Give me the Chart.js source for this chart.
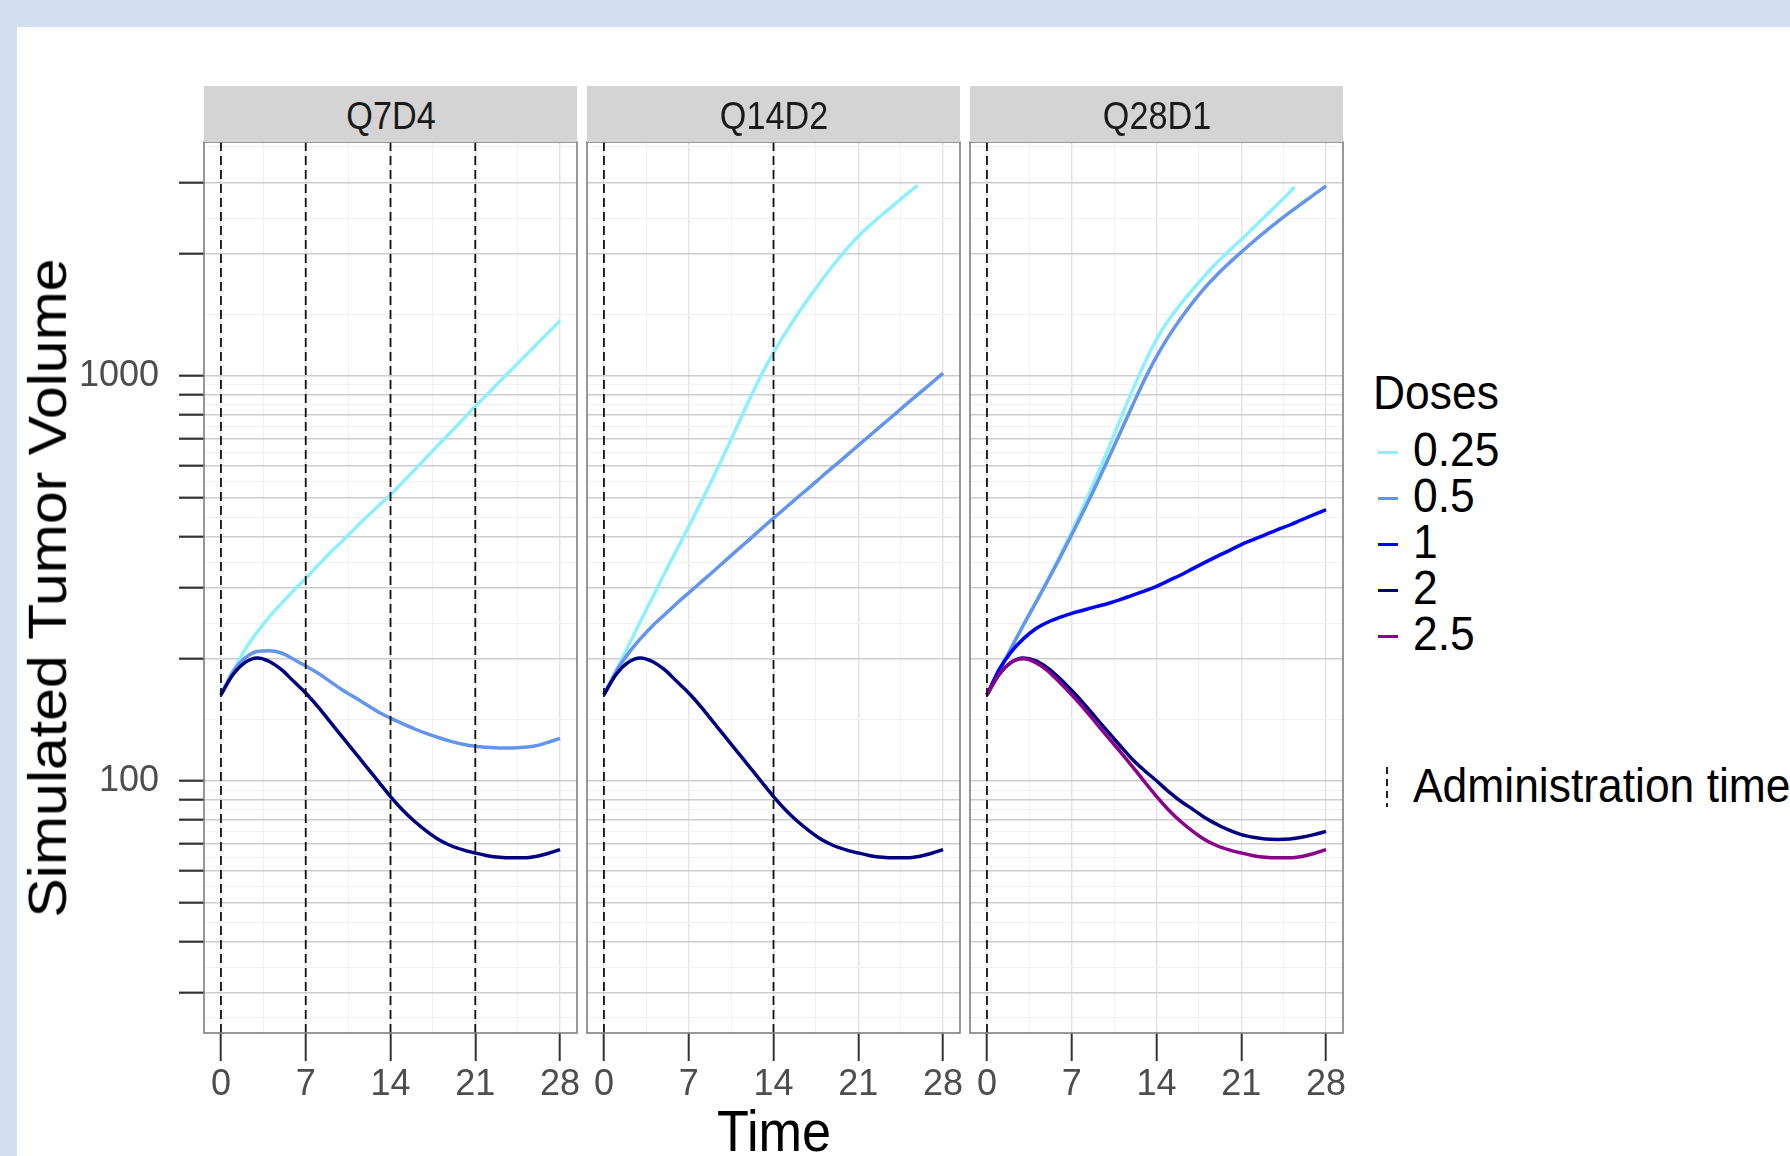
<!DOCTYPE html>
<html>
<head>
<meta charset="utf-8">
<script src="https://cdn.jsdelivr.net/npm/chart.js@4.4.1/dist/chart.umd.min.js"></script>
<style>
  html, body { margin: 0; padding: 0; }
  body { width: 1790px; height: 1156px; position: relative; overflow: hidden; background: #ffffff;
         font-family: 'Liberation Sans', Arial, sans-serif; }
  .band-top { position: absolute; left: 0; top: 0; width: 1790px; height: 27px; background: #D3DEF1; }
  .band-left { position: absolute; left: 0; top: 0; width: 17px; height: 1156px; background: #D3DEF1; }
  canvas { position: absolute; }
  .strip { position: absolute; top: 86px; height: 56px; width: 373px; background: #D4D4D4; }
  .strip span { position: absolute; left: 50%; top: 50%; font-size: 38px; color: #1A1A1A; white-space: nowrap;
                transform: translate(-50%, -46%) scaleX(0.9); line-height: 1; }
  .xtitle { position: absolute; left: 774px; top: 1102px; font-size: 58px; line-height: 58px; color: #000;
            transform: translateX(-50%) scaleX(0.9); white-space: nowrap; }
  .ytitle { position: absolute; left: 48px; top: 588px; font-size: 59px; line-height: 59px; color: #000;
            transform: translate(-50%, -50%) scaleX(0.9) rotate(-90deg); white-space: nowrap; }
  .leg { position: absolute; font-size: 48px; line-height: 48px; color: #000; white-space: nowrap;
         transform-origin: left center; transform: scaleX(0.925); }
  .sw { position: absolute; width: 20px; height: 3px; }
  .dashkey { position: absolute; width: 2px; height: 40px;
             background: repeating-linear-gradient(to bottom, #222 0 7px, transparent 7px 12px); }
</style>
</head>
<body>
<div class="band-top"></div>
<div class="band-left"></div>

<canvas id="c1" width="527" height="991" style="left:60px; top:132px;"></canvas>
<canvas id="c2" width="393" height="991" style="left:577px; top:132px;"></canvas>
<canvas id="c3" width="393" height="991" style="left:960px; top:132px;"></canvas>

<div class="strip" style="left:204px"><span id="s1"></span></div>
<div class="strip" style="left:587px"><span id="s2"></span></div>
<div class="strip" style="left:970px"><span id="s3"></span></div>

<div class="xtitle">Time</div>
<div class="ytitle">Simulated Tumor Volume</div>

<div id="legend"></div>

<script>
// ---------------- data ----------------
const panels = ['Q7D4', 'Q14D2', 'Q28D1'];
const doses = ['0.25', '0.5', '1', '2', '2.5'];
const days = [0,1,2,3,4,5,6,7,8,9,10,11,12,13,14,15,16,17,18,19,20,21,22,23,24,25,26,27,28];
const dayTicks = [0, 7, 14, 21, 28];
const dayMinor = [3.5, 10.5, 17.5, 24.5];
const dayLimits = [0, 28];
const yTicks = [30,40,50,60,70,80,90,100,200,300,400,500,600,700,800,900,1000,2000,3000];
const yLabelled = [100, 1000];
const yLimits = [30, 3000];

// administration times per regimen
const adminQ7D4 = [0, 7, 14, 21];
const adminQ14D2 = [0, 14];
const adminQ28D1 = [0];

// Q7D4 panel
const q7d4_025 = [163,186,211,233,254,274,295,316,340,365,390,418,447,477,508,546,586,630,677,727,781,840,900,966,1036,1110,1190,1276,1367];
const q7d4_05  = [163,186,201,208.5,209.4,206.7,199.6,192,184.5,175.9,167.8,160.9,154.2,147.8,142.8,138.3,134.2,130.7,127.7,125.1,123,121.6,120.9,120.4,120.4,120.9,122,124.4,127.2];
const q7d4_2   = [163,183,196,201,197,188,176,164.7,152.5,140,128.5,118,108.4,99.5,91.4,84.7,79.3,75,71.5,69.1,67.5,66.3,65.3,64.7,64.5,64.5,65,66.1,67.6];

// Q14D2 panel
const q14d2_025_days = [0,1,2,3,4,5,6,7,8,9,10,11,12,13,14,15,16,17,18,19,20,21,22,23,24,25,25.9];
const q14d2_025 = [163,187,215,247,283,325,371,424,486,559,646,750,872,1005,1141,1277,1420,1568,1723,1885,2048,2210,2357,2502,2650,2807,2953];
const q14d2_05  = [163,186,206,224,241,257,274,291,309,328,349,371,394,419,445,472,501,531,564,598,634,673,714,757,803,852,903,957,1015];
const q14d2_2   = [163,183,196,201,197,188,176,164.7,152.5,140,128.5,118,108.4,99.5,91.4,84.7,79.3,75,71.5,69.1,67.5,66.3,65.3,64.7,64.5,64.5,65,66.1,67.6];

// Q28D1 panel
const q28d1_025_days = [0,1,2,3,4,5,6,7,8,9,10,11,12,13,14,15,16,17,18,19,20,21,22,23,24,25,25.4];
const q28d1_025 = [163,186,212.5,242,274,313,358,412,478,559,658,779,917,1070,1229,1372,1504,1634,1768,1903,2034,2169,2319,2479,2650,2840,2925];
const q28d1_05  = [163,186,212.5,242,274,311,354,405,465,536,622,723,842,976,1115,1251,1385,1518,1650,1776,1898,2020,2145,2272,2401,2531,2663,2801,2940];
const q28d1_1   = [163,188,208,224,237,246,253,259,264,269,274,280,287,294,302,312,322,334,346,358,370,383,394,405,417,428,441,454,467];
const q28d1_2   = [163,183,196,201,198,190,179,167,155,143,132,122,113,106,100,94,89,85,81,78,75.5,73.6,72.5,71.8,71.6,71.8,72.5,73.6,75];
const q28d1_25  = [163,183,196,200,196,187,175,163,151,139,128,118,108.5,99.5,91.5,84.7,79.3,75,71.5,69.1,67.5,66.3,65.3,64.7,64.5,64.5,65,66.1,67.6];

// ---------------- styles ----------------
const doseColors = { '0.25': '#8EF0FF', '0.5': '#6495ED', '1': '#0000FF', '2': '#000080', '2.5': '#8B008B' };
const tickFont = { family: "'Liberation Sans', Arial, sans-serif", size: 36 };

// expanded limits (5% each side)
const lx0 = dayLimits[0], lx1 = dayLimits[1];
const X_MIN = lx0 - 0.05 * (lx1 - lx0), X_MAX = lx1 + 0.05 * (lx1 - lx0);
const ly0 = Math.log10(yLimits[0]), ly1 = Math.log10(yLimits[1]);
const Y_MIN = Math.pow(10, ly0 - 0.05 * (ly1 - ly0)), Y_MAX = Math.pow(10, ly1 + 0.05 * (ly1 - ly0));

// minor y breaks: midpoints (log space) between majors, plus one beyond each end
function minorLog(br) {
  const l = br.map(Math.log10);
  const ext = [l[0] - (l[1] - l[0]), ...l, l[l.length - 1] + (l[l.length - 1] - l[l.length - 2])];
  const out = [];
  for (let i = 0; i < ext.length - 1; i++) out.push(Math.pow(10, (ext[i] + ext[i + 1]) / 2));
  return out.filter(v => v > Y_MIN && v < Y_MAX);
}
const yMinor = minorLog(yTicks);

function pts(t, v) { return v.map((y, i) => ({ x: t[i], y: y })); }

const panelBorder = {
  id: 'panelBorder',
  afterDraw(chart) {
    const { ctx, chartArea: a } = chart;
    ctx.save();
    ctx.strokeStyle = '#7F7F7F';
    ctx.lineWidth = 1.6;
    ctx.strokeRect(a.left, a.top, a.right - a.left, a.bottom - a.top);
    ctx.restore();
  }
};

function noPad(sc) { sc.paddingLeft = 0; sc.paddingRight = 0; sc.paddingTop = 0; sc.paddingBottom = 0; }

function makeChart(id, seriesList, admin, showY) {
  const datasets = [];
  admin.forEach(t => datasets.push({
    data: [{ x: t, y: Y_MIN }, { x: t, y: Y_MAX }],
    borderColor: '#111111', borderWidth: 1.8, borderDash: [9, 5],
    pointRadius: 0, tension: 0, order: 0
  }));
  seriesList.forEach(s => datasets.push({
    data: pts(s.t, s.v),
    borderColor: doseColors[s.dose], borderWidth: 3.5,
    pointRadius: 0, cubicInterpolationMode: 'monotone',
    order: 20 - doses.indexOf(s.dose)
  }));

  return new Chart(document.getElementById(id), {
    type: 'line',
    data: { datasets },
    plugins: [panelBorder],
    options: {
      responsive: false, animation: false, maintainAspectRatio: false,
      layout: { padding: { top: 10, right: 10, bottom: 0, left: showY ? 0 : 10 } },
      plugins: { legend: { display: false }, tooltip: { enabled: false }, title: { display: false } },
      scales: {
        x: {
          type: 'linear', min: X_MIN, max: X_MAX, bounds: 'data',
          afterBuildTicks: sc => { sc.ticks = [...dayTicks, ...dayMinor].sort((a, b) => a - b).map(v => ({ value: v })); },
          afterFit: sc => { sc.height = 90; noPad(sc); },
          ticks: {
            autoSkip: false, maxRotation: 0, minRotation: 0, padding: 2,
            color: '#4D4D4D', font: tickFont,
            callback: v => dayTicks.includes(v) ? String(v) : ''
          },
          grid: {
            drawOnChartArea: true, drawTicks: true, tickLength: 28,
            color: c => (c.tick && dayTicks.includes(c.tick.value)) ? '#E3E3E3' : '#F3F3F3',
            lineWidth: c => (c.tick && dayTicks.includes(c.tick.value)) ? 1.4 : 1,
            tickColor: c => (c.tick && dayTicks.includes(c.tick.value)) ? '#333333' : 'rgba(0,0,0,0)',
            tickWidth: 2
          },
          border: { display: false }
        },
        y: {
          type: 'logarithmic', min: Y_MIN, max: Y_MAX, bounds: 'data',
          afterBuildTicks: sc => { sc.ticks = [...yTicks, ...yMinor].sort((a, b) => a - b).map(v => ({ value: v })); },
          afterFit: sc => { sc.width = showY ? 144 : 0; noPad(sc); },
          ticks: {
            display: showY, autoSkip: false, padding: 20,
            color: '#4D4D4D', font: tickFont,
            callback: v => yLabelled.includes(v) ? String(v) : ''
          },
          grid: {
            drawOnChartArea: true, drawTicks: showY, tickLength: 25,
            color: c => (c.tick && yTicks.includes(c.tick.value)) ? '#CDCDCD' : '#F1F1F1',
            lineWidth: c => (c.tick && yTicks.includes(c.tick.value)) ? 1.4 : 1,
            tickColor: c => (c.tick && yTicks.includes(c.tick.value)) ? '#333333' : 'rgba(0,0,0,0)',
            tickWidth: 2.2
          },
          border: { display: false }
        }
      }
    }
  });
}

makeChart('c1', [
  { dose: '0.25', t: days, v: q7d4_025 },
  { dose: '0.5', t: days, v: q7d4_05 },
  { dose: '2', t: days, v: q7d4_2 }
], adminQ7D4, true);

makeChart('c2', [
  { dose: '0.25', t: q14d2_025_days, v: q14d2_025 },
  { dose: '0.5', t: days, v: q14d2_05 },
  { dose: '2', t: days, v: q14d2_2 }
], adminQ14D2, false);

makeChart('c3', [
  { dose: '0.25', t: q28d1_025_days, v: q28d1_025 },
  { dose: '0.5', t: days, v: q28d1_05 },
  { dose: '1', t: days, v: q28d1_1 },
  { dose: '2', t: days, v: q28d1_2 },
  { dose: '2.5', t: days, v: q28d1_25 }
], adminQ28D1, false);

// strip labels
document.getElementById('s1').textContent = panels[0];
document.getElementById('s2').textContent = panels[1];
document.getElementById('s3').textContent = panels[2];

// legend
const leg = document.getElementById('legend');
function addDiv(cls, styleText, text) {
  const d = document.createElement('div');
  d.className = cls; d.setAttribute('style', styleText);
  if (text !== undefined) d.textContent = text;
  leg.appendChild(d);
}
addDiv('leg', 'left:1373px; top:369px;', 'Doses');
doses.forEach((d, i) => {
  const cy = 452 + i * 46;
  addDiv('sw', `left:1378px; top:${cy - 1.5}px; background:${doseColors[d]};`);
  addDiv('leg', `left:1413px; top:${cy - 26}px;`, d);
});
addDiv('dashkey', 'left:1386px; top:767px;');
addDiv('leg', 'left:1413px; top:762px;', 'Administration time');
</script>
</body>
</html>
